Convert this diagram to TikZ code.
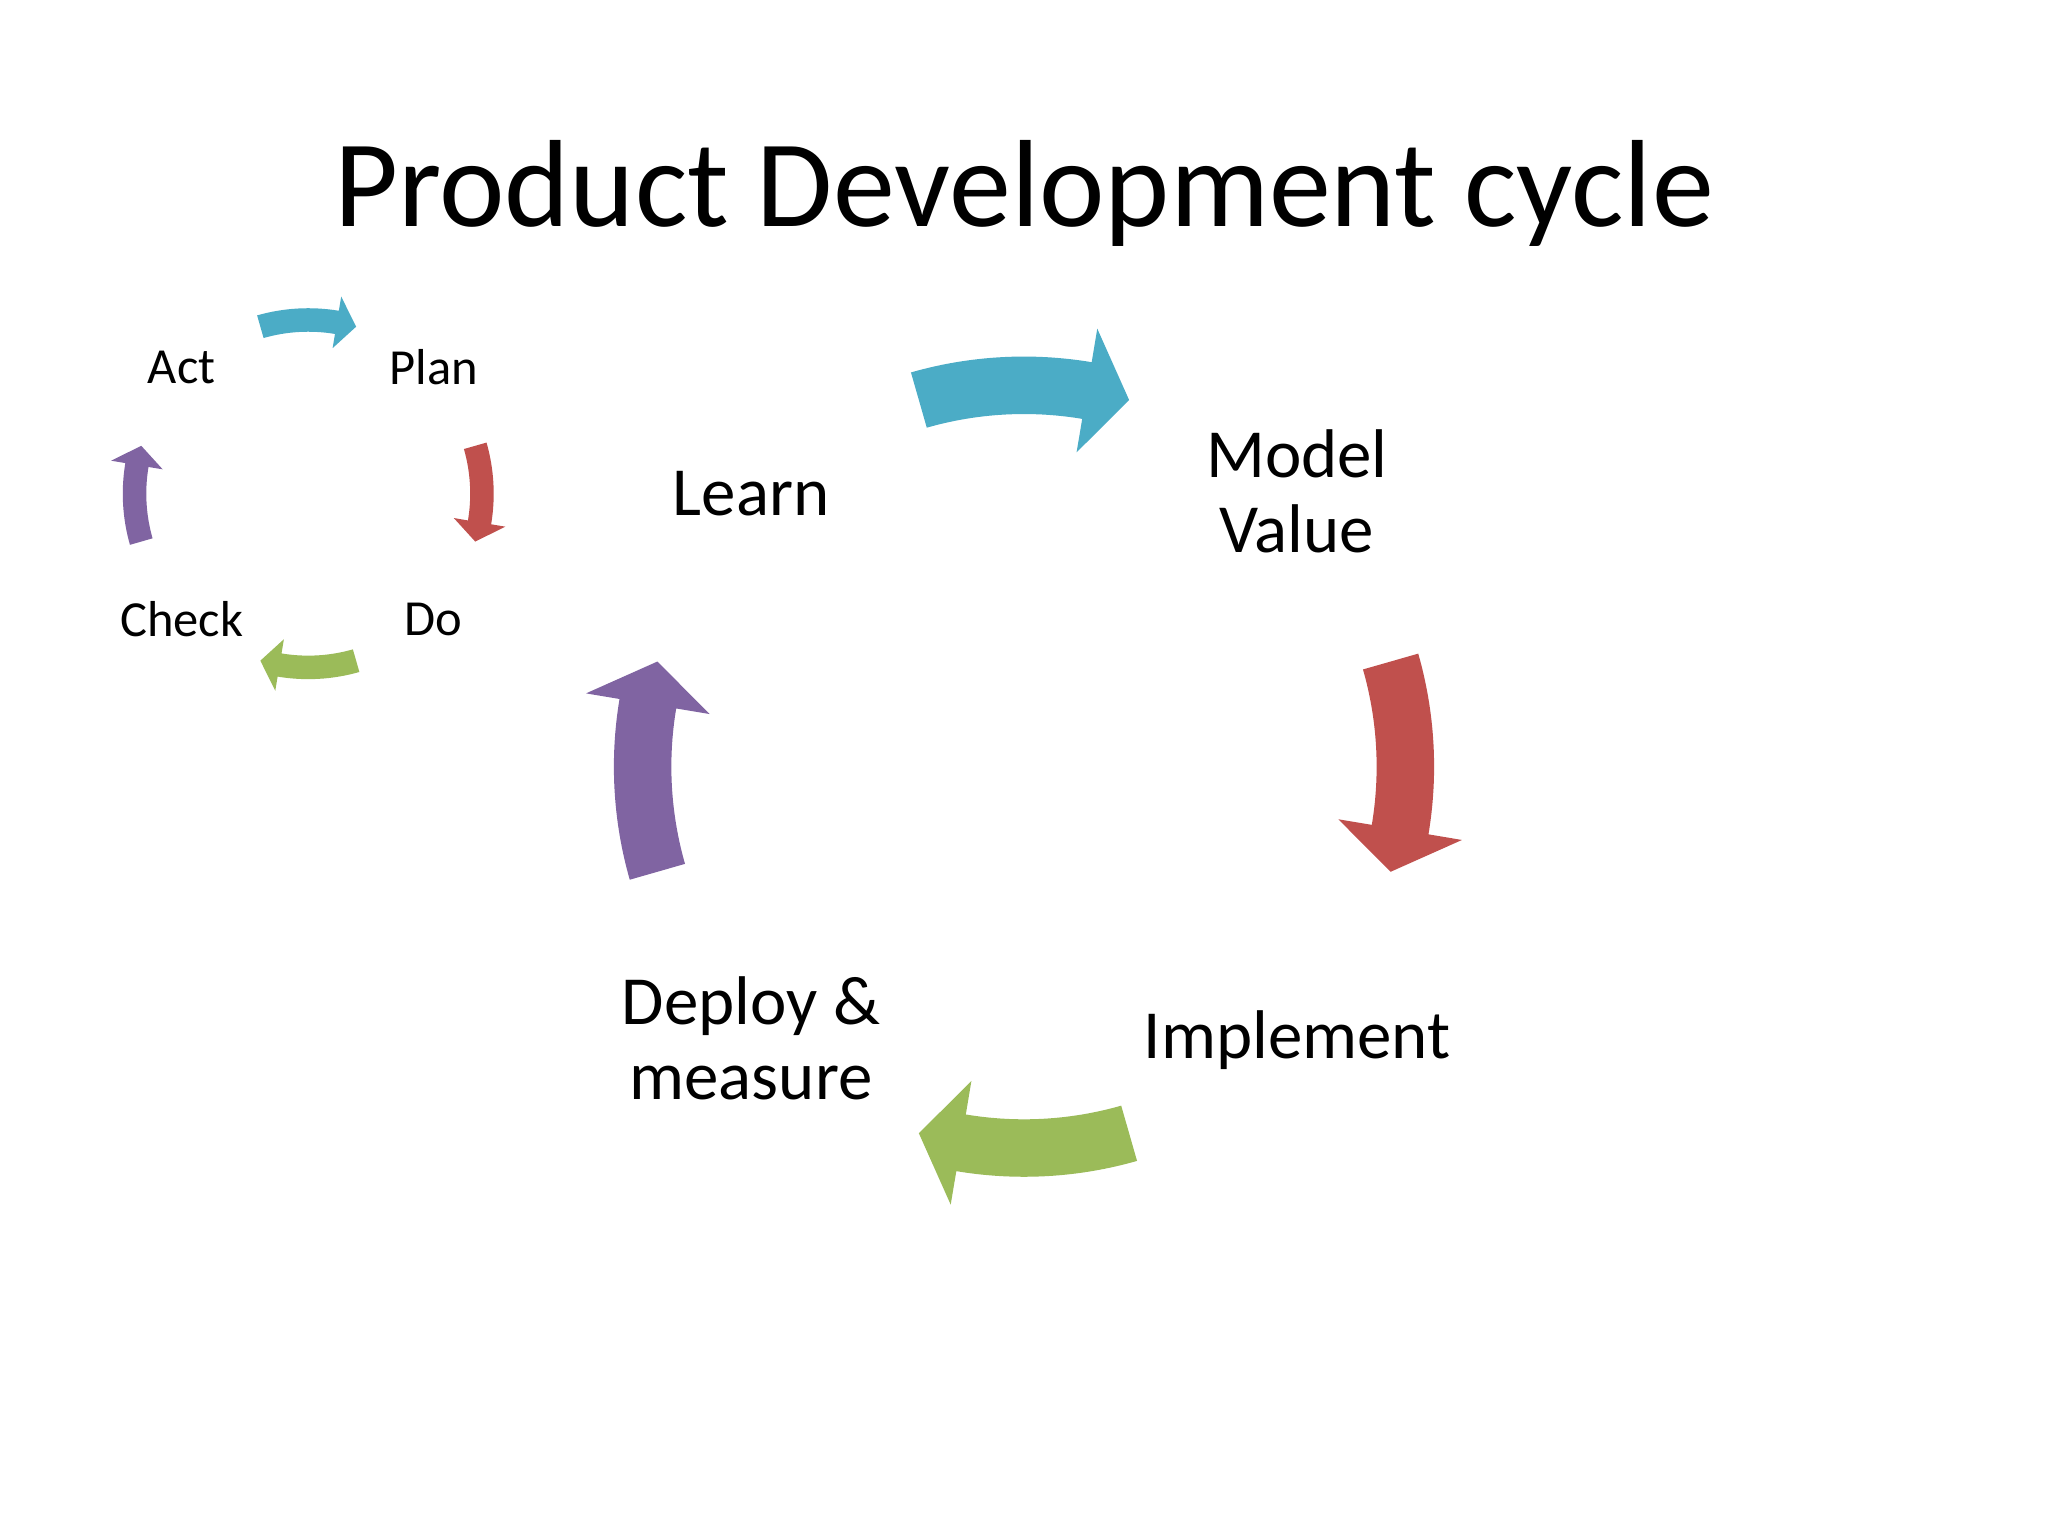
\documentclass[tikz,border=0pt]{standalone}
\usepackage{fontspec}
\setmainfont{Carlito}
\definecolor{cblue}{HTML}{4BACC6}
\definecolor{cred}{HTML}{C0504D}
\definecolor{cgreen}{HTML}{9BBB59}
\definecolor{cpurple}{HTML}{8064A2}
% #1 colour, #2 centre, #3 start angle, #4 head base angle, #5 tip angle, #6 r, #7 half band, #8 half head
\newcommand\cycarrow[8]{%
  \fill[#1,shift={#2}] (#3:#6+#7) arc[start angle=#3,end angle=#4,radius=#6+#7]
    -- (#4:#6+#8) -- (#5:#6) -- (#4:#6-#8) -- (#4:#6-#7)
    arc[start angle=#4,end angle=#3,radius=#6-#7] -- cycle;}
\begin{document}
\begin{tikzpicture}[x=0.01cm,y=0.01cm,
  big/.style={font=\fontsize{15}{16.3}\selectfont,align=center},
  small/.style={font=\fontsize{11}{13}\selectfont}]
\fill[white] (0,0) rectangle (1568,1176);
\node[font=\fontsize{27}{32}\selectfont] (title) at (784,1028) {Product Development cycle};
% big cycle, centre (784,589)
\node[big] (learn) at (575,798) {Learn};
\node[big] (model) at (993,800) {Model\\Value};
\node[big] (impl) at (993,380) {Implement};
\node[big] (deploy) at (575,381) {Deploy \&\\measure};
\cycarrow{cblue}{(784,589)}{106}{80.5}{74}{292}{22}{48}
\cycarrow{cred}{(784,589)}{16}{-9.5}{-16}{292}{22}{48}
\cycarrow{cgreen}{(784,589)}{-74}{-99.5}{-106}{292}{22}{48}
\cycarrow{cpurple}{(784,589)}{196}{170.5}{164}{292}{22}{48}
% small cycle, centre (236,798)
\node[small] (act) at (139,895) {Act};
\node[small] (plan) at (332,895) {Plan};
\node[small] (do) at (332,702) {Do};
\node[small] (check) at (139,702) {Check};
\cycarrow{cblue}{(236,798)}{106}{80.5}{74}{133}{9}{20}
\cycarrow{cred}{(236,798)}{16}{-9.5}{-16}{133}{9}{20}
\cycarrow{cgreen}{(236,798)}{-74}{-99.5}{-106}{133}{9}{20}
\cycarrow{cpurple}{(236,798)}{196}{170.5}{164}{133}{9}{20}
\end{tikzpicture}
\end{document}
